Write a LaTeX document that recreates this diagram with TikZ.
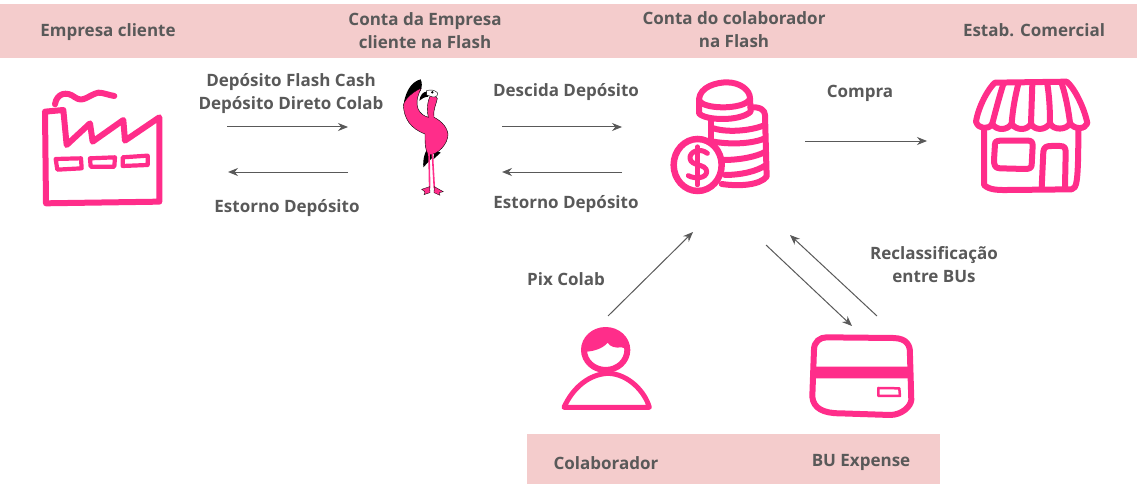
\documentclass[tikz,border=0pt]{standalone}
\usepackage{fontspec}
\setmainfont{Open Sans}
\usetikzlibrary{arrows.meta}
\definecolor{band}{HTML}{F4CCCC}
\definecolor{hot}{HTML}{FF2D8A}
\definecolor{ink}{HTML}{595959}
\tikzset{
  lbl/.style={text=ink,font=\fontsize{17}{23}\selectfont\bfseries,align=center,inner sep=0pt},
  flow/.style={draw=ink,line width=1pt,-{Stealth[length=10pt,width=8pt]}},
  ic/.style={draw=hot,line width=6pt,line cap=round,line join=round,fill=none},
  icthin/.style={draw=hot,line width=4.2pt,line cap=round,line join=round,fill=none},
  zoomed/.style={x=0.3333pt,y=-0.3333pt}
}
\begin{document}
\begin{tikzpicture}[x=1pt,y=-1pt]
\useasboundingbox (0,0) rectangle (1137,484);
\fill[band] (0,4) rectangle (1137,58);
\fill[band] (527,434) rectangle (940,484);
% labels
\node[lbl] (t1) at (108,32) {Empresa cliente};
\node[lbl] (t2) at (425,31) {Conta da Empresa\\cliente na Flash};
\node[lbl] (t3) at (734,30) {Conta do colaborador\\na Flash};
\node[lbl] (t4) at (1034,30) {Estab. Comercial};
\node[lbl] (l1) at (291,94) {Depósito Flash Cash\\Depósito Direto Colab};
\node[lbl] (l2) at (287,208) {Estorno Depósito};
\node[lbl] (l3) at (566,92) {Descida Depósito};
\node[lbl] (l4) at (566,204) {Estorno Depósito};
\node[lbl] (l5) at (860,93) {Compra};
\node[lbl] (l6) at (566,279) {Pix Colab};
\node[lbl] (l7) at (934,265) {Reclassificação\\entre BUs};
\node[lbl] (b1) at (606,463) {Colaborador};
\node[lbl] (b2) at (861,462) {BU Expense};
% factory
\begin{scope}[shift={(0,60)},zoomed]
\draw[ic] (135,155) -- (190,150) -- (200,255) -- (270,190) -- (278,245) -- (370,180) -- (375,242) -- (478,172) -- (478,425) -- (138,430) -- cycle;
\draw[ic] (165,133) .. controls (170,100) and (200,92) .. (225,112) .. controls (250,130) and (265,105) .. (295,98) .. controls (310,98) and (325,105) .. (343,108);
\draw[icthin] (167,297) -- (243,295) -- (245,325) -- (172,329) -- cycle;
\draw[icthin] (270,295) -- (345,292) -- (343,320) -- (272,320) -- cycle;
\draw[icthin] (368,292) -- (443,287) -- (443,315) -- (368,318) -- cycle;
\end{scope}
% flamingo
\begin{scope}[shift={(380,60)},zoomed]
\fill[black] (72,125) .. controls (80,90) and (95,65) .. (122,58) .. controls (128,70) and (125,80) .. (122,92) -- (80,130) -- cycle;
\fill[black] (130,322) .. controls (128,295) and (135,270) .. (150,260) -- (160,290) -- cycle;
\fill[black] (160,298) -- (182,278) -- (165,270) -- cycle;
\draw[black,line width=.4pt,fill=hot] (124,84) .. controls (100,95) and (75,115) .. (70,135) .. controls (72,175) and (90,205) .. (135,222) .. controls (135,250) and (135,270) .. (145,285) .. controls (175,285) and (205,250) .. (204,222) .. controls (200,195) and (175,178) .. (162,172) .. controls (158,150) and (170,130) .. (172,115) -- (155,100) .. controls (145,115) and (138,140) .. (145,172) .. controls (120,165) and (95,140) .. (124,84) -- cycle;
\fill[black] (118,122) .. controls (120,105) and (130,95) .. (140,95) -- (145,110) .. controls (132,110) and (125,118) .. (118,122) -- cycle;
\fill[white,draw=black,line width=.4pt] (140,92) .. controls (150,88) and (165,90) .. (172,98) .. controls (176,108) and (165,114) .. (155,110) -- (140,105) -- cycle;
\fill[black] (157,97) circle (4);
\draw[hot,line width=1.6pt] (147,280) -- (149,385);
\draw[hot,line width=1.6pt] (157,280) -- (163,385);
\fill[hot,draw=black,line width=.3pt] (149,380) -- (125,388) -- (135,396) -- (132,404) -- (150,398) -- cycle;
\fill[hot,draw=black,line width=.3pt] (163,380) -- (190,395) -- (178,398) -- (180,406) -- (162,398) -- cycle;
\end{scope}
% coins
\begin{scope}[shift={(650,70)},zoomed]
\draw[ic] (147,88) .. controls (150,50) and (200,37) .. (230,37) .. controls (270,37) and (300,60) .. (300,85) .. controls (295,105) and (250,112) .. (220,112) .. controls (185,112) and (150,105) .. (147,88) -- cycle;
\draw[ic] (147,92) -- (147,130) .. controls (165,152) and (270,155) .. (302,125) -- (300,85);
\draw[ic] (302,112) .. controls (330,110) and (345,120) .. (345,135) -- (350,320) .. controls (330,345) and (270,350) .. (215,342);
\draw[ic] (183,150) -- (183,205);
\draw[ic] (190,175) .. controls (240,190) and (310,180) .. (345,165);
\draw[ic] (190,215) .. controls (250,225) and (310,220) .. (345,205);
\draw[ic] (220,270) .. controls (270,270) and (320,260) .. (347,245);
\draw[ic] (225,315) .. controls (270,315) and (320,305) .. (348,285);
\draw[draw=hot,line width=6.5pt,fill=white] (143,285) circle [x radius=72,y radius=78];
\draw[ic,line width=5pt] (172,250) .. controls (150,232) and (118,245) .. (120,265) .. controls (122,290) and (170,280) .. (170,305) .. controls (170,325) and (135,328) .. (115,317);
\draw[ic,line width=4.5pt] (142,230) -- (142,345);
\end{scope}
% store
\begin{scope}[shift={(960,70)},zoomed]
\draw[ic] (105,38) -- (320,35) .. controls (345,55) and (375,120) .. (382,160) .. controls (375,178) and (345,180) .. (330,160) .. controls (320,180) and (280,182) .. (270,160) .. controls (255,182) and (225,182) .. (213,162) .. controls (200,182) and (170,182) .. (155,162) .. controls (140,182) and (110,182) .. (97,162) .. controls (85,180) and (55,178) .. (48,155) .. controls (55,110) and (85,55) .. (105,38) -- cycle;
\draw[ic] (130,42) .. controls (115,90) and (105,130) .. (97,160);
\draw[ic] (175,42) .. controls (165,80) and (158,120) .. (155,160);
\draw[ic] (217,42) -- (213,160);
\draw[ic] (262,42) .. controls (268,80) and (270,120) .. (270,158);
\draw[ic] (305,40) .. controls (318,80) and (325,120) .. (330,158);
\draw[ic] (72,180) -- (72,345) .. controls (90,362) and (120,360) .. (150,360) -- (335,358) .. controls (350,355) and (355,340) .. (355,180);
\draw[ic] (105,222) .. controls (105,212) and (115,212) .. (130,212) -- (205,212) .. controls (215,212) and (218,218) .. (218,228) -- (215,285) .. controls (215,295) and (205,297) .. (195,297) -- (120,295) .. controls (105,295) and (102,285) .. (102,270) -- cycle;
\draw[ic] (245,355) -- (250,245) .. controls (252,230) and (260,228) .. (275,228) -- (300,228) .. controls (315,228) and (317,235) .. (317,250) -- (315,350);
\end{scope}
% person
\begin{scope}[shift={(540,310)},zoomed]
\draw[ic] (197,120) circle [x radius=65,y radius=60];
\fill[hot] (135,125) .. controls (130,75) and (170,58) .. (200,58) .. controls (240,58) and (262,85) .. (262,118) -- (245,112) .. controls (225,115) and (210,110) .. (203,98) .. controls (190,115) and (160,125) .. (135,125) -- cycle;
\draw[ic,line width=5pt] (72,292) .. controls (100,230) and (150,192) .. (205,190) .. controls (265,192) and (315,245) .. (328,292) -- cycle;
\end{scope}
% card
\begin{scope}[shift={(540,310)},zoomed]
\draw[ic] (860,82) -- (1060,84) .. controls (1100,85) and (1112,105) .. (1110,135) -- (1114,270) .. controls (1112,290) and (1085,315) .. (1050,315) -- (900,310) .. controls (850,310) and (820,295) .. (817,260) -- (822,120) .. controls (822,95) and (840,82) .. (860,82) -- cycle;
\fill[hot] (825,170) -- (1112,170) -- (1112,205) -- (820,205) -- cycle;
\draw[draw=hot,line width=2.5pt,line join=round] (1015,234) -- (1078,235) -- (1080,258) -- (1015,258) -- cycle;
\end{scope}
% connector ends
\coordinate (a1) at (227,127); \coordinate (a2) at (348,127);
\coordinate (b3) at (348,172); \coordinate (b4) at (228,172);
\coordinate (c1) at (502,127); \coordinate (c2) at (622,127);
\coordinate (d1) at (622,172); \coordinate (d2) at (502,172);
\coordinate (e1) at (805,141); \coordinate (e2) at (927,141);
\coordinate (f1) at (608,316); \coordinate (f2) at (693,232);
\coordinate (g1) at (766,245); \coordinate (g2) at (852,326);
\coordinate (h1) at (877,316); \coordinate (h2) at (790,235);
\draw[flow] (a1) -- (a2);
\draw[flow] (b3) -- (b4);
\draw[flow] (c1) -- (c2);
\draw[flow] (d1) -- (d2);
\draw[flow] (e1) -- (e2);
\draw[flow] (f1) -- (f2);
\draw[flow] (g1) -- (g2);
\draw[flow] (h1) -- (h2);
\end{tikzpicture}
\end{document}
